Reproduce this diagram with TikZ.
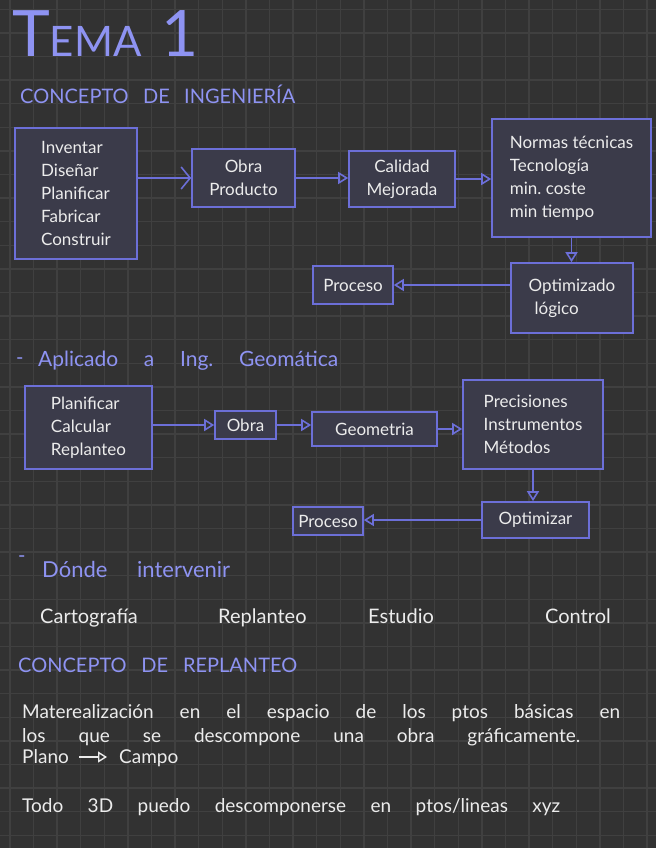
\documentclass[tikz,border=0pt]{standalone}
\usepackage{fontspec}
\setmainfont{Lato}
\usetikzlibrary{arrows.meta}
\definecolor{bgc}{HTML}{323232}
\definecolor{gridc}{HTML}{404040}
\definecolor{boxf}{HTML}{3B3B4A}
\definecolor{boxd}{HTML}{6C6FD8}
\definecolor{hd}{HTML}{8E93F2}
\definecolor{txt}{HTML}{ECECEC}
\frenchspacing
\begin{document}
\begin{tikzpicture}[x=1pt,y=-1pt,
  box/.style={draw=boxd, fill=boxf, line width=1.6pt, text=txt, align=left, inner sep=0pt,
    font=\fontsize{17}{23}\selectfont},
  conn/.style={draw=boxd, line width=1.6pt, -{Triangle[open, length=10pt, width=12pt]}},
  barb/.style={draw=boxd, line width=1.6pt, -{Straight Barb[length=9pt, width=22pt]}},
  head/.style={text=hd, inner sep=0pt, anchor=base west, font=\fontsize{20}{24}\selectfont},
  plain/.style={text=txt, inner sep=0pt, anchor=base west, font=\fontsize{19}{22}\selectfont}]
% background and grid
\fill[bgc] (0,0) rectangle (656,848);
\path[use as bounding box] (0,0) rectangle (656,848);
\foreach \i in {0,...,27} \draw[gridc, line width=1.3pt] (9.9+\i*23.6,0) -- ++(0,848);
\foreach \j in {0,...,35} \draw[gridc, line width=1.3pt] (0,9.3+\j*23.6) -- ++(656,0);

% title and headings
\node[head, font=\fontsize{64}{64}\selectfont] (title) at (12,57)
  {T{\fontsize{42}{42}\selectfont EMA}\hspace{20pt}1};
\node[head] (h1) at (20,104) {\makebox[275pt][s]{CONCEPTO DE INGENIERÍA}};

% section 1
\node[box, minimum width=122pt, minimum height=131pt] (b1) at (76,193.5)
  {Inventar\\Diseñar\\Planificar\\Fabricar\\Construir};
\node[box, minimum width=103pt, minimum height=58pt, align=center] (obra1) at (243.5,178)
  {Obra\\Producto};
\node[box, minimum width=106pt, minimum height=56pt, align=center] (cal) at (402,179)
  {Calidad\\Mejorada};
\node[box, minimum width=159pt, minimum height=118pt] (norm) at (571.5,178)
  {Normas técnicas\\Tecnología\\min. coste\\min tiempo};
\node[box, minimum width=122pt, minimum height=70pt] (opt) at (572,298)
  {Optimizado\\\hspace{6pt}lógico};
\node[box, minimum width=80pt, minimum height=38pt] (proc1) at (353,285)
  {Proceso};
\draw[barb] (b1.east |- obra1.west) -- (obra1.west);
\draw[conn] (obra1.east) -- (obra1.east -| cal.west);
\draw[conn] (cal.east) -- (cal.east -| norm.west);
\draw[conn] (norm.south) -- (norm.south |- opt.north);
\draw[conn] (opt.west |- proc1.east) -- (proc1.east);

% section 2
\node[head] (d2) at (16,364) {-};
\node[head, font=\fontsize{21}{24}\selectfont] (h2) at (38,366) {\makebox[300pt][s]{Aplicado a Ing. Geomática}};
\node[box, minimum width=127pt, minimum height=83pt] (b2) at (88.5,427.5)
  {Planificar\\Calcular\\Replanteo};
\node[box, minimum width=61pt, minimum height=28pt] (obra2) at (245.5,425) {Obra};
\node[box, minimum width=125pt, minimum height=34pt] (geo) at (374.5,429) {Geometria};
\node[box, minimum width=140pt, minimum height=89pt] (prec) at (533,424.5)
  {Precisiones\\Instrumentos\\Métodos};
\node[box, minimum width=107pt, minimum height=36pt] (optz) at (535.5,520) {Optimizar};
\node[box, minimum width=70pt, minimum height=28pt] (proc2) at (328,521) {Proceso};
\draw[conn] (b2.east |- obra2.west) -- (obra2.west);
\draw[conn] (obra2.east) -- (obra2.east -| geo.west);
\draw[conn] (geo.east) -- (geo.east -| prec.west);
\draw[conn] (prec.south) -- (prec.south |- optz.north);
\draw[conn] (optz.west) -- (optz.west -| proc2.east);

% section 3
\node[head] (d3) at (18,562) {-};
\node[head, font=\fontsize{22}{24}\selectfont] (h3) at (42,577) {\makebox[188pt][s]{Dónde intervenir}};
\node[plain, font=\fontsize{20}{24}\selectfont] (c1) at (40,623) {Cartografía};
\node[plain, font=\fontsize{20}{24}\selectfont] (c2) at (218,623) {Replanteo};
\node[plain, font=\fontsize{20}{24}\selectfont] (c3) at (368,623) {Estudio};
\node[plain, font=\fontsize{20}{24}\selectfont] (c4) at (545,623) {Control};

\node[head] (h4) at (18,672) {\makebox[279pt][s]{CONCEPTO DE REPLANTEO}};
\node[plain] (p1) at (22,718) {\makebox[598pt][s]{Materealización en el espacio de los ptos básicas en}};
\node[plain] (p2) at (22,742) {\makebox[558pt][s]{los que se descompone una obra gráficamente.}};
\node[plain] (plano) at (22,763) {Plano};
\node[plain] (campo) at (119,763) {Campo};
\draw[draw=txt, line width=1.4pt, -{Triangle[open, length=9pt, width=11pt]}]
  ([xshift=10pt,yshift=6pt]plano.base east) -- ([xshift=-12pt,yshift=6pt]campo.base west);
\node[plain] (p4) at (22,812) {\makebox[538pt][s]{Todo 3D puedo descomponerse en ptos/lineas xyz}};
\end{tikzpicture}
\end{document}
